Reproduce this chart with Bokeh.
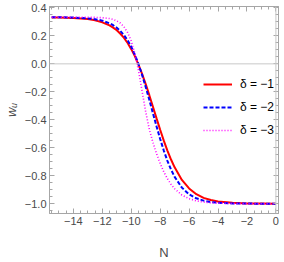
import numpy as np
from bokeh.plotting import figure
from bokeh.models import Range1d, LinearAxis, FixedTicker, Span, Legend, LegendItem
from bokeh.embed import file_html
from bokeh.resources import INLINE

# ---- data ----
N = [-15.5, -15, -14, -13, -12.5, -12, -11.5, -11.25, -11, -10.75, -10.5, -10.25,
     -10, -9.75, -9.5, -9.25, -9, -8.75, -8.5, -8.25, -8, -7.75, -7.5, -7.25,
     -7, -6.5, -6, -5.5, -5, -4.5, -4, -3, -2, -1, 0]
w_delta1 = [0.332, 0.331, 0.328, 0.320, 0.311, 0.297, 0.275, 0.259, 0.240, 0.215, 0.185, 0.149,
            0.105, 0.055, -0.005, -0.072, -0.145, -0.224, -0.307, -0.390, -0.471, -0.549, -0.620, -0.684,
            -0.740, -0.830, -0.891, -0.932, -0.958, -0.974, -0.984, -0.994, -0.998, -0.999, -1.000]
w_delta2 = [0.333, 0.333, 0.331, 0.325, 0.319, 0.309, 0.290, 0.276, 0.258, 0.235, 0.205, 0.168,
            0.122, 0.065, -0.001, -0.079, -0.165, -0.257, -0.353, -0.447, -0.537, -0.620, -0.693, -0.756,
            -0.808, -0.885, -0.933, -0.961, -0.978, -0.988, -0.993, -0.998, -0.999, -1.000, -1.000]
w_delta3 = [0.333, 0.333, 0.333, 0.333, 0.332, 0.330, 0.324, 0.318, 0.307, 0.291, 0.265, 0.224,
            0.163, 0.074, -0.047, -0.195, -0.343, -0.468, -0.562, -0.642, -0.712, -0.772, -0.821, -0.861,
            -0.893, -0.938, -0.964, -0.980, -0.988, -0.994, -0.996, -0.999, -1.000, -1.000, -1.000]
labels = ["δ = −1", "δ = −2", "δ = −3"]

x_ticks = [-14, -12, -10, -8, -6, -4, -2, 0]
x_tick_labels = ["−14", "−12", "−10", "−8", "−6", "−4", "−2", "0"]
y_ticks = [0.4, 0.2, 0.0, -0.2, -0.4, -0.6, -0.8, -1.0]
y_tick_labels = ["0.4", "0.2", "0.0", "−0.2", "−0.4", "−0.6", "−0.8", "−1.0"]
x_minor = [float(v) for v in np.arange(-15.5, 0.01, 0.5)]
y_minor = [round(float(v), 2) for v in np.arange(-1.05, 0.41, 0.05)]

FONT = "Liberation Sans"
FRAME = "#a6a6a6"
TXT = "#4a4a4a"

p = figure(width=284, height=262, output_backend="svg", toolbar_location=None,
           x_range=Range1d(-15.65, 0.18), y_range=Range1d(-1.07, 0.41),
           min_border_left=40, min_border_right=6, min_border_top=6, min_border_bottom=45)
p.xgrid.visible = False
p.ygrid.visible = False
p.outline_line_color = FRAME
p.background_fill_color = "white"
p.border_fill_color = "white"

def style_axis(ax, ticks, minor, overrides, show_labels):
    ax.ticker = FixedTicker(ticks=ticks, minor_ticks=minor)
    ax.major_label_overrides = {t: s for t, s in zip(ticks, overrides)}
    ax.axis_line_color = FRAME
    ax.major_tick_line_color = FRAME
    ax.minor_tick_line_color = FRAME
    ax.major_tick_in = 5
    ax.major_tick_out = 0
    ax.minor_tick_in = 3
    ax.minor_tick_out = 0
    ax.major_label_text_font = FONT
    ax.major_label_text_color = TXT
    ax.major_label_text_font_size = "11px" if show_labels else "0px"
    ax.major_label_standoff = 3

style_axis(p.xaxis[0], x_ticks, x_minor, x_tick_labels, True)
style_axis(p.yaxis[0], y_ticks, y_minor, y_tick_labels, True)
p.xaxis[0].axis_label = "N"
p.yaxis[0].axis_label = "wᵤ"
for ax in (p.xaxis[0], p.yaxis[0]):
    ax.axis_label_text_font = FONT
    ax.axis_label_text_color = TXT
    ax.axis_label_text_font_size = "13px"
    ax.axis_label_text_font_style = "normal"
p.xaxis[0].axis_label_standoff = 17
p.yaxis[0].axis_label_text_font_style = "italic"
p.yaxis[0].axis_label_standoff = 3

top = LinearAxis()
style_axis(top, x_ticks, x_minor, ["" for _ in x_ticks], False)
top.major_label_standoff = 0
top.axis_label_standoff = 0
p.add_layout(top, "above")
right = LinearAxis()
style_axis(right, y_ticks, y_minor, ["" for _ in y_ticks], False)
right.major_label_standoff = 0
right.axis_label_standoff = 0
p.add_layout(right, "right")

p.add_layout(Span(location=0, dimension="width", line_color="#c8c8c8", line_width=1))
p.add_layout(Span(location=0, dimension="height", line_color="#c8c8c8", line_width=1))

r1 = p.line(N, w_delta1, line_color="#ff0000", line_width=2)
r2 = p.line(N, w_delta2, line_color="#0000ff", line_width=2, line_dash="4 2")
r3 = p.line(N, w_delta3, line_color="#ff00ff", line_width=1.6, line_dash="1 2")

legend = Legend(items=[LegendItem(label=labels[0], renderers=[r1]),
                       LegendItem(label=labels[1], renderers=[r2]),
                       LegendItem(label=labels[2], renderers=[r3])],
                location=(154, 73), padding=0, margin=0, spacing=3,
                glyph_width=29, glyph_height=20, label_standoff=8,
                label_text_font=FONT, label_text_font_size="12px", label_text_color="#000000",
                background_fill_alpha=0, border_line_color=None)
p.add_layout(legend)

open("out.html", "w").write(file_html(p, INLINE))
